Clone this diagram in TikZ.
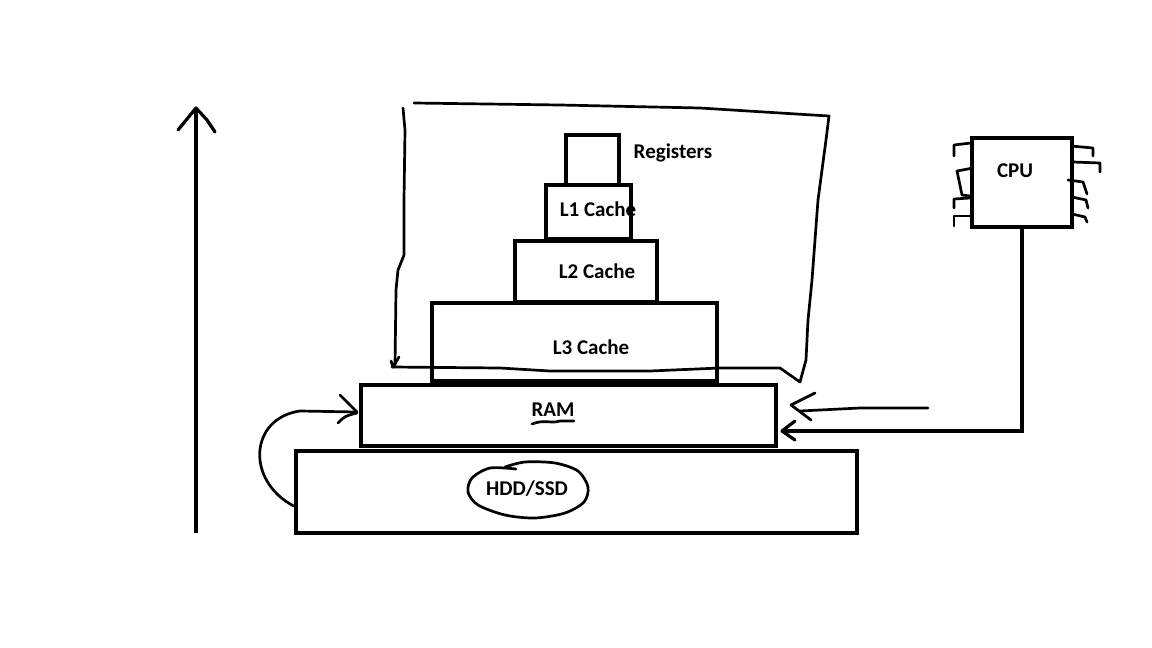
\documentclass[tikz,border=0pt]{standalone}
\usepackage{fontspec}
\setmainfont{Carlito}
\usetikzlibrary{calc}

\begin{document}
\begin{tikzpicture}[x=1pt,y=-1pt,
		tier/.style={draw,line width=4.8pt,inner sep=0pt},
		lbl/.style={font=\fontsize{21}{24}\selectfont\bfseries,inner sep=0pt},
		pen/.style={line width=2.7pt,line cap=round,line join=round}]
		\useasboundingbox (0,0) rectangle (1152,648);
		% the pyramid
		\node[tier,minimum width=53pt,minimum height=50pt] (regs) at (592.5,160) {};
		\node[tier,minimum width=85pt,minimum height=54pt] (lone) at (588.5,212) {};
		\node[tier,minimum width=142pt,minimum height=61pt] (ltwo) at (586,271.5) {};
		\node[tier,minimum width=285pt,minimum height=78pt] (lthree) at (574.5,342) {};
		\node[tier,minimum width=415pt,minimum height=61pt] (ram) at (568.5,415.5) {};
		\node[tier,minimum width=561pt,minimum height=82pt] (hdd) at (576.5,492) {};
		\node[lbl] (regs-t) at (673,153) {Registers};
		\node[lbl] (lone-t) at (598,209) {L1 Cache};
		\node[lbl] (ltwo-t) at (597,271) {L2 Cache};
		\node[lbl] (lthree-t) at (591,347) {L3 Cache};
		\node[lbl] (ram-t) at (553,410) {RAM};
		\node[lbl] (hdd-t) at (527,489) {HDD/SSD};
		\draw[pen] (532,424) .. controls (545,419) and (550,424) .. (560,421) -- (574,421);
		\draw[pen] plot[smooth] coordinates {(516,469) (490,468) (472,478) (468,492) (478,505) (505,515) (535,518) (565,513) (584,502) (588,487) (578,471) (555,463) (525,462) (505,467)};
		% cpu
		\node[draw,line width=3.2pt,minimum width=100pt,minimum height=89pt] (cpu) at (1022,182.5) {};
		\node[lbl] (cpu-t) at (1015,171) {CPU};
		\foreach \a/\b/\c in {{(971,143)}/{(954,145)}/{(954,156)},{(970,198)}/{(954,199)}/{(954,208)},{(970,216)}/{(954,216)}/{(954,226)},
			{(1071,146)}/{(1093,148)}/{(1093,156)},{(1073,162)}/{(1100,163)}/{(1100,172)},{(1068,180)}/{(1083,182)}/{(1087,194)},
			{(1072,197)}/{(1086,200)}/{(1088,208)},{(1072,214)}/{(1085,217)}/{(1087,222)}}{
			\draw[pen] \a -- \b -- \c;
		}
		\draw[pen] (973,168) -- (957,171) -- (962,195) -- (970,196);
		% the upward arrow
		\coordinate (up-bot) at (196,533);
		\coordinate (up-top) at (196,108);
		\draw[line width=4.5pt] (up-bot) -- (up-top);
		\draw[pen,line width=3.2pt] (178,130) -- (up-top) -- (207,120) -- (215,132);
		% the hand drawn frame
		\draw[pen] (414,103) -- (560,105) -- (700,108) -- (780,113) -- (829,116) -- (826,140) -- (818,200) -- (812,280) -- (808,320) -- (806,360) -- (800,382) -- (780,368) -- (720,368) -- (650,371) -- (550,371) -- (500,368) -- (392,367);
		\draw[pen] (403,108) -- (405,130) -- (404,200) -- (404,255) -- (398,270) -- (396,290) -- (395,365);
		\draw[pen] (391,361) -- (393,367) -- (399,357);
		% hdd to ram
		\draw[pen] ([yshift=-14pt]hdd.west) .. controls (245,480) and (250,418) .. (300,411) -- (357,412);
		\draw[pen] (340,395) -- (357,412);
		\draw[pen] (338,423) .. controls (345,416) .. (357,413);
		% arrows from the right
		\coordinate (note) at (928,408);
		\draw[pen] (note) -- (860,408) -- (800,411);
		\draw[pen] (815,393) -- (791,405) -- (811,420);
		\draw[line width=4.5pt] (cpu.south) |- ($(ram.east)+(4,15.5)$);
		\draw[pen,line width=3.2pt] (795,421) -- (782,431) -- (795,440);
\end{tikzpicture}
\end{document}
